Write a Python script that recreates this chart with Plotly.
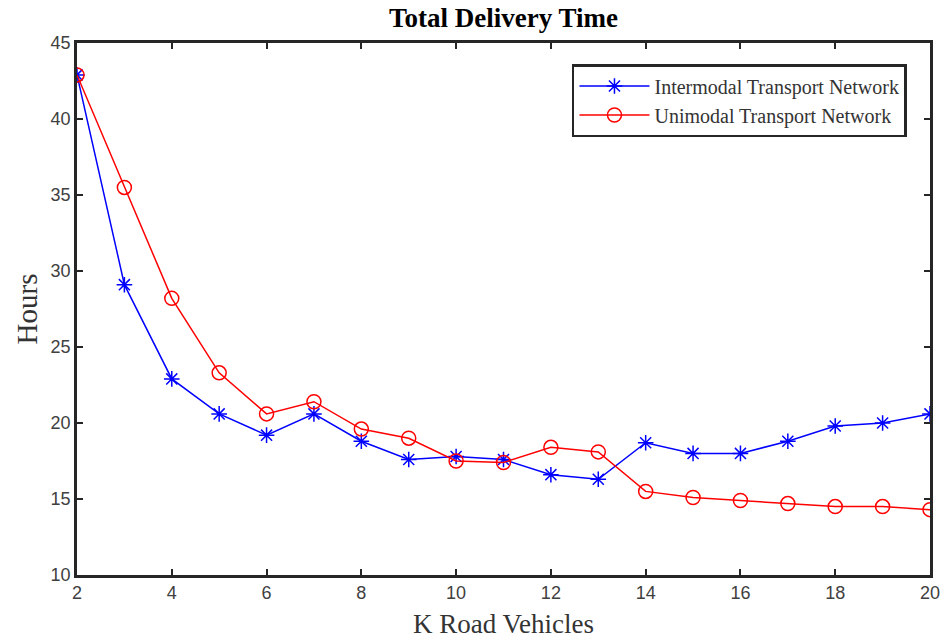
import plotly.graph_objects as go

k_vehicles = list(range(2, 21))
intermodal = [42.9, 29.1, 22.9, 20.6, 19.2, 20.6, 18.8, 17.6, 17.8, 17.6, 16.6, 16.3,
              18.7, 18.0, 18.0, 18.8, 19.8, 20.0, 20.6]
unimodal = [42.9, 35.5, 28.2, 23.3, 20.6, 21.4, 19.6, 19.0, 17.5, 17.4, 18.4, 18.1,
            15.5, 15.1, 14.9, 14.7, 14.5, 14.5, 14.3]
x_ticks = list(range(2, 21, 2))
y_ticks = list(range(10, 46, 5))

fig = go.Figure()
fig.add_trace(go.Scatter(
    x=k_vehicles, y=intermodal, mode="lines+markers",
    name="Intermodal Transport Network",
    line=dict(color="#0000ff", width=1.5),
    marker=dict(symbol="asterisk-open", size=13, color="#0000ff", line=dict(color="#0000ff", width=1.5)),
))
fig.add_trace(go.Scatter(
    x=k_vehicles, y=unimodal, mode="lines+markers",
    name="Unimodal Transport Network",
    line=dict(color="#ff0000", width=1.5),
    marker=dict(symbol="circle-open", size=14, color="#ff0000", line=dict(color="#ff0000", width=1.5)),
))

axis_common = dict(
    showline=True, linecolor="#262626", linewidth=2.5, mirror="ticks",
    ticks="inside", ticklen=6, tickcolor="#262626", tickwidth=1.5,
    showgrid=False, zeroline=False, automargin=False,
    tickfont=dict(family="Liberation Sans, Arial", size=18, color="#404040"),
)

fig.update_layout(
    width=941, height=639,
    margin=dict(l=77, r=11, t=43, b=64, autoexpand=False),
    paper_bgcolor="white", plot_bgcolor="white",
    title=dict(text="<b>Total Delivery Time</b>", x=0.535, xanchor="center", y=0.972, yanchor="middle",
               font=dict(family="Liberation Serif, Times New Roman", size=27, color="#000000")),
    xaxis=dict(range=[2, 20], tickvals=x_ticks,
               title=dict(text="K Road Vehicles", standoff=14,
                          font=dict(family="Liberation Serif, Times New Roman", size=27, color="#333333")),
               **axis_common),
    yaxis=dict(range=[10, 45], tickvals=y_ticks,
               title=dict(text="Hours", standoff=5,
                          font=dict(family="Liberation Serif, Times New Roman", size=29, color="#333333")),
               **axis_common),
    legend=dict(x=0.973, y=0.9605, xanchor="right", yanchor="top",
                bgcolor="white", bordercolor="#262626", borderwidth=2.5,
                font=dict(family="Liberation Serif, Times New Roman", size=20, color="#333333"),
                tracegroupgap=0, itemwidth=70),
    showlegend=True,
)

fig.write_html("out.html")
